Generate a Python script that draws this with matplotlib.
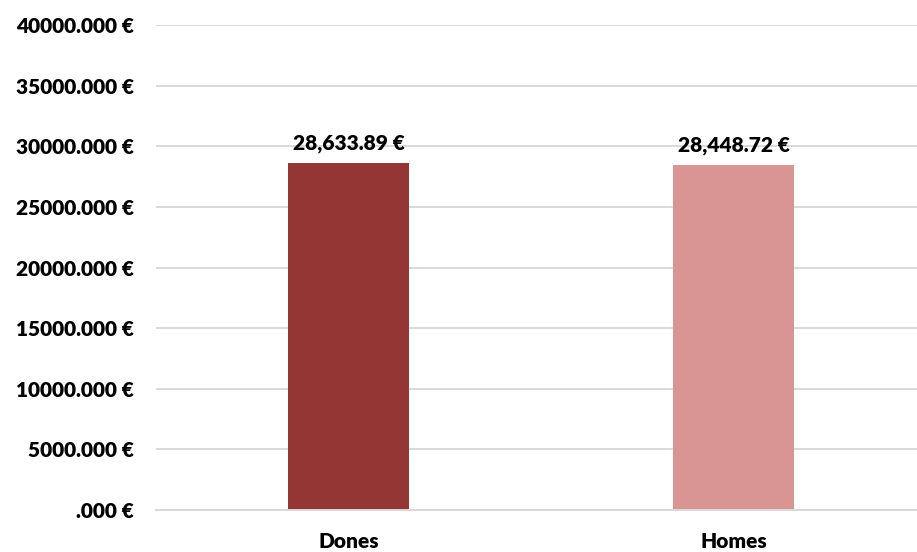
import matplotlib as mpl
mpl.use('Agg')
import matplotlib.pyplot as plt
from matplotlib.ticker import FuncFormatter

#
#--- salary data by sex
#
categories = ['Dones', 'Homes']
salaries   = [28633.89, 28448.72]
colors     = ['#943634', '#D99594']

yticks = list(range(0, 40001, 5000))

#----------------------------------------------------------------------------------------------
#-- euro_label: y tick label format                                                          --
#----------------------------------------------------------------------------------------------

def euro_label(val, pos):
    if val == 0:
        return '.000 €'
    return '%d.000 €' % int(val)

#----------------------------------------------------------------------------------------------
#-- plot_data: draw the bar chart                                                            --
#----------------------------------------------------------------------------------------------

def plot_data(outname):

    fsize  = 15
    weight = 'heavy'
    mpl.rcParams['font.family'] = ['Lato', 'DejaVu Sans']
    mpl.rcParams['font.weight'] = weight

    fig = plt.figure(figsize=(9.17, 5.52), dpi=100)
    ax  = fig.add_axes([156 / 917.0, 42 / 552.0, 1.0 - 156 / 917.0, 485 / 552.0])

    xpos = list(range(len(categories)))
    ax.bar(xpos, salaries, width=0.314, color=colors, zorder=3)

    for x, v in zip(xpos, salaries):
        ax.annotate('{:,.2f} €'.format(v), (x, v), xytext=(0, 7), textcoords='offset points',
                    ha='center', va='bottom', fontsize=fsize, fontweight=weight, color='black')

    ax.set_xlim(-0.5, (917 - 348.5) / 385.0)
    ax.set_ylim(0, 40000)
    ax.set_yticks(yticks)
    ax.yaxis.set_major_formatter(FuncFormatter(euro_label))
    ax.set_xticks(xpos)
    ax.set_xticklabels(categories)

    ax.grid(axis='y', color='#D9D9D9', lw=1.4, zorder=0)
    for side in ['top', 'right', 'left']:
        ax.spines[side].set_visible(False)
    ax.spines['bottom'].set_color('#D9D9D9')
    ax.spines['bottom'].set_linewidth(1.4)
    ax.spines['bottom'].set_zorder(4)

    ax.tick_params(axis='y', length=0, pad=16, labelsize=fsize)
    ax.tick_params(axis='x', length=0, pad=16, labelsize=fsize)
    for lab in ax.get_xticklabels() + ax.get_yticklabels():
        lab.set_fontweight(weight)

    fig.savefig(outname, dpi=100)
    plt.close('all')


if __name__ == '__main__':
    plot_data('out.png')
